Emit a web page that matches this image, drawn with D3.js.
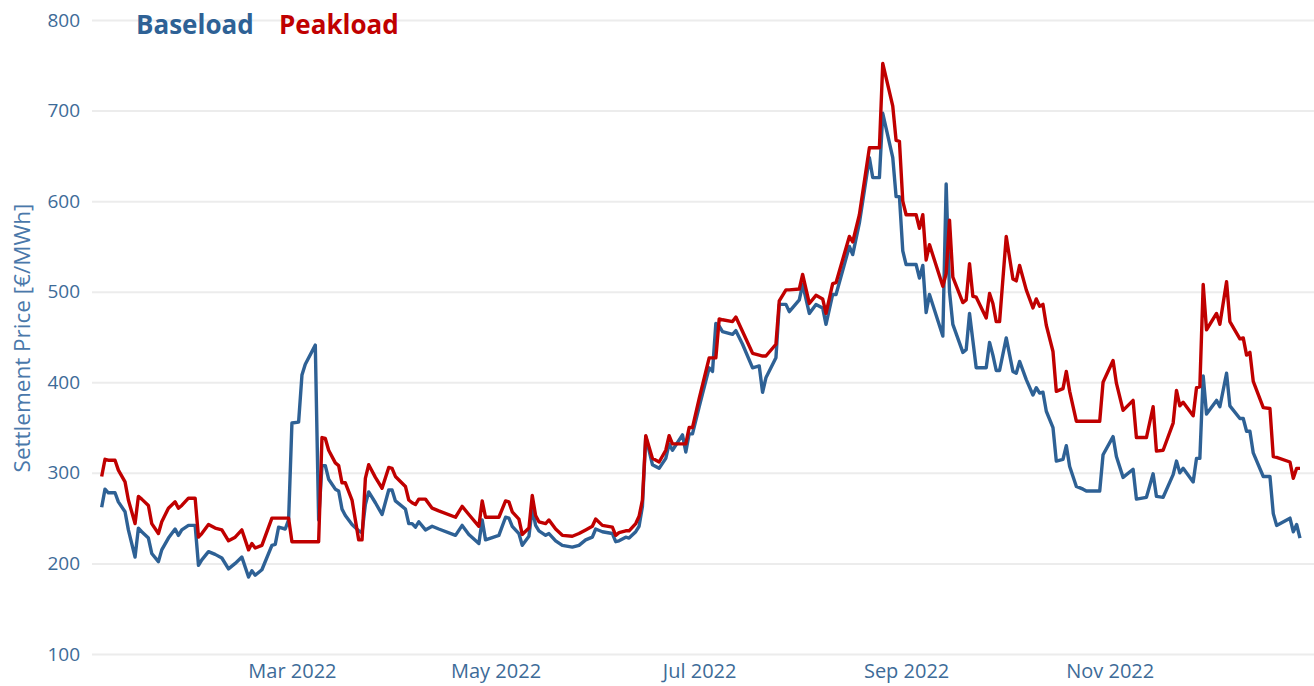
<!DOCTYPE html>
<html>
<head>
<meta charset="utf-8">
<script src="https://cdn.jsdelivr.net/npm/d3@7"></script>
<style>
  body { margin: 0; background: #fff; }
  svg { display: block; font-family: "Open Sans", "Noto Sans", sans-serif; }
</style>
</head>
<body>
<div id="chart"></div>
<script>

// settlement dates (2022) and prices in €/MWh
let dates = [
  "01-03","01-04","01-05","01-07","01-08","01-10","01-11","01-13","01-14","01-15",
  "01-17","01-18","01-20","01-21","01-23","01-25","01-26","01-27","01-29","01-31",
  "02-01","02-02","02-04","02-06","02-08","02-10","02-12","02-14","02-16","02-17",
  "02-18","02-20","02-23","02-24","02-25","02-27","02-28","03-01","03-03","03-04",
  "03-05","03-08","03-09","03-10","03-11","03-12","03-14","03-15","03-16","03-17",
  "03-19","03-21","03-22","03-23","03-24","03-26","03-28","03-30","03-31","04-01",
  "04-04","04-05","04-06","04-07","04-08","04-10","04-12","04-14","04-19","04-21",
  "04-23","04-26","04-27","04-28","05-02","05-04","05-05","05-06","05-08","05-09",
  "05-11","05-12","05-13","05-14","05-16","05-17","05-19","05-21","05-24","05-26",
  "05-28","05-30","05-31","06-02","06-05","06-06","06-07","06-09","06-10","06-12",
  "06-13","06-14","06-15","06-17","06-19","06-21","06-22","06-23","06-26","06-27",
  "06-28","06-29","07-01","07-04","07-05","07-06","07-07","07-08","07-11","07-12",
  "07-14","07-17","07-19","07-20","07-21","07-24","07-25","07-27","07-28","07-31",
  "08-01","08-03","08-05","08-07","08-08","08-10","08-11","08-15","08-16","08-18",
  "08-21","08-22","08-24","08-25","08-28","08-29","08-30","08-31","09-01","09-04",
  "09-05","09-06","09-07","09-08","09-12","09-13","09-14","09-15","09-18","09-19",
  "09-20","09-21","09-22","09-25","09-26","09-27","09-28","09-29","10-01","10-03",
  "10-04","10-05","10-07","10-09","10-10","10-11","10-12","10-13","10-15","10-16",
  "10-18","10-19","10-20","10-22","10-24","10-25","10-29","10-30","11-02","11-03",
  "11-05","11-08","11-09","11-12","11-14","11-15","11-17","11-20","11-21","11-22",
  "11-23","11-26","11-27","11-28","11-29","11-30","12-03","12-04","12-06","12-07",
  "12-10","12-11","12-12","12-13","12-14","12-17","12-19","12-20","12-21","12-25",
  "12-26","12-27","12-28"
].map(d => "2022-" + d);

let baseload = [
  262,282,278,278,268,257,237,207,239,235,
  228,211,202,215,228,238,231,237,242,242,
  198,204,213,210,206,194,200,207,185,192,
  187,193,220,221,240,238,248,355,356,408,
  420,441,248,308,308,293,282,280,260,253,
  243,236,234,265,279,267,254,281,281,269,
  260,244,244,240,246,237,241,238,231,242,
  232,222,248,226,231,251,250,241,233,220,
  230,261,242,236,231,233,225,220,218,220,
  226,229,238,235,233,224,225,229,228,235,
  241,263,340,309,305,316,332,325,342,323,
  343,343,373,416,412,465,462,456,453,457,
  442,416,418,389,405,427,486,486,478,491,
  508,476,486,482,464,497,497,550,541,576,
  648,626,626,697,648,605,605,545,530,530,
  515,529,477,497,451,619,500,464,433,436,
  476,446,416,416,444,430,413,413,449,412,
  410,423,403,386,394,388,389,368,350,313,
  315,330,307,285,282,280,280,320,340,318,
  295,304,271,273,299,274,273,298,313,300,
  305,290,316,316,407,365,380,373,410,374,
  360,360,346,346,322,296,296,255,242,250,
  235,243,228
];

let peakload = [
  296,315,314,314,303,290,270,244,274,271,
  264,244,233,246,261,268,261,264,272,272,
  229,233,243,239,237,225,229,237,215,222,
  217,220,250,250,250,250,250,224,224,224,
  224,224,224,339,338,325,311,308,289,289,
  270,226,226,294,309,295,283,306,305,296,
  285,270,267,265,271,271,261,258,251,263,
  254,241,269,251,251,269,268,257,249,232,
  239,275,253,246,244,248,238,231,230,233,
  237,241,249,242,240,231,234,236,236,244,
  252,270,341,316,312,325,341,332,332,332,
  350,350,382,427,427,427,470,469,467,472,
  456,432,430,429,429,442,490,502,502,503,
  519,487,496,492,476,509,510,561,555,585,
  659,659,659,752,705,667,666,600,585,585,
  570,585,535,552,506,520,579,516,488,491,
  531,495,494,471,498,487,467,467,561,514,
  512,529,502,482,492,484,486,463,434,390,
  393,412,390,357,357,357,357,400,424,399,
  369,380,339,339,373,324,325,355,391,374,
  378,363,394,395,508,458,476,464,511,467,
  448,449,430,433,401,372,371,318,317,312,
  294,305,305
];

let yTicks = [100, 200, 300, 400, 500, 600, 700, 800];
let xTicks = ["2022-03-01", "2022-05-01", "2022-07-01", "2022-09-01", "2022-11-01"];

let series = [
  { name: "Baseload", values: baseload, color: "#2e6195" },
  { name: "Peakload", values: peakload, color: "#c00000" }
];

let width = 1314,
    height = 686;

let parse = d3.timeParse("%Y-%m-%d");

let x = d3.scaleTime()
    .domain([parse("2022-01-01"), parse("2022-12-31")])
    .range([95, 1310]);

let y = d3.scaleLinear()
    .domain([100, 800])
    .range([654, 20]);

let svg = d3.select("#chart")
    .append("svg")
    .attr("width", width)
    .attr("height", height);

// horizontal grid + y labels
let yAxis = svg.append("g")
    .attr("transform", "translate(92,0)")
    .call(d3.axisLeft(y).tickValues(yTicks).tickSize(-(width - 92)).tickPadding(12).tickFormat(d3.format("d")));
yAxis.select(".domain").remove();
yAxis.selectAll(".tick line").attr("stroke", "#ececec").attr("stroke-width", 2);
yAxis.selectAll(".tick text")
    .attr("fill", "#3d6b98")
    .attr("font-size", 19)
    .attr("font-family", "Open Sans, Noto Sans, sans-serif");

let xAxis = svg.append("g")
    .attr("transform", "translate(0,660)")
    .call(d3.axisBottom(x).tickValues(xTicks.map(parse)).tickSize(0).tickPadding(4).tickFormat(d3.timeFormat("%b %Y")));
xAxis.select(".domain").remove();
xAxis.selectAll(".tick text")
    .attr("fill", "#3d6b98")
    .attr("font-size", 20)
    .attr("font-family", "Open Sans, Noto Sans, sans-serif");

svg.append("text")
    .attr("transform", "translate(30,338) rotate(-90)")
    .attr("text-anchor", "middle")
    .attr("fill", "#4a78aa")
    .attr("font-size", 22.5)
    .text("Settlement Price [€/MWh]");

let line = d3.line()
    .x((d, i) => x(parse(dates[i])))
    .y(d => y(d));

svg.selectAll(".series")
    .data(series)
    .join("path")
    .attr("class", "series")
    .attr("fill", "none")
    .attr("stroke", d => d.color)
    .attr("stroke-width", 3.4)
    .attr("stroke-linejoin", "round")
    .attr("d", d => line(d.values));

// legend
let legend = svg.append("g")
    .attr("font-weight", "bold")
    .attr("font-size", 26);
legend.append("text").attr("x", 136).attr("y", 34).attr("fill", series[0].color).text(series[0].name);
legend.append("text").attr("x", 279).attr("y", 34).attr("fill", series[1].color).text(series[1].name);

</script>
</body>
</html>
